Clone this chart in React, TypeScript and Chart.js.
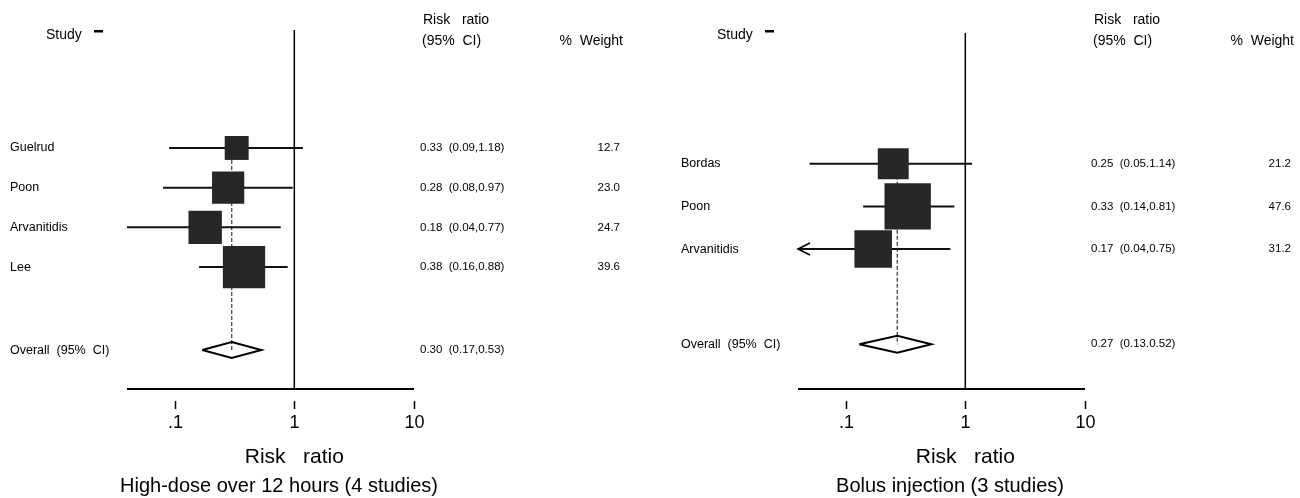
import React, { useEffect, useRef } from "react";
import { Chart, registerables } from "chart.js";

Chart.register(...registerables);

// ---------- data ----------
const leftStudies = ["Guelrud", "Poon", "Arvanitidis", "Lee"];
const leftRR = [0.33, 0.28, 0.18, 0.38];
const leftLow = [0.09, 0.08, 0.04, 0.16];
const leftHigh = [1.18, 0.97, 0.77, 0.88];
const leftWeight = [12.7, 23.0, 24.7, 39.6];
const leftTruncated = [false, false, false, false];
const leftCiText = ["0.33  (0.09,1.18)", "0.28  (0.08,0.97)", "0.18  (0.04,0.77)", "0.38  (0.16,0.88)"];
const leftOverall = [0.30, 0.17, 0.53];
const leftOverallText = "0.30  (0.17,0.53)";
const leftTitle = "High-dose over 12 hours (4 studies)";

const rightStudies = ["Bordas", "Poon", "Arvanitidis"];
const rightRR = [0.25, 0.33, 0.17];
const rightLow = [0.05, 0.14, 0.04];
const rightHigh = [1.14, 0.81, 0.75];
const rightWeight = [21.2, 47.6, 31.2];
const rightTruncated = [false, false, true];
const rightCiText = ["0.25  (0.05.1.14)", "0.33  (0.14,0.81)", "0.17  (0.04,0.75)"];
const rightOverall = [0.27, 0.13, 0.52];
const rightOverallText = "0.27  (0.13.0.52)";
const rightTitle = "Bolus injection (3 studies)";

const xTickValues = [0.1, 1, 10];
const xTickLabels = [".1", "1", "10"];
const axisMin = 0.04;
const axisMax = 10;
const overallLabel = "Overall  (95%  CI)";
const headerStudy = "Study";
const headerRR = ["Risk   ratio", "(95%  CI)"];
const headerWeight = "%  Weight";
const axisTitle = "Risk   ratio";

// ---------- helpers ----------
const FONT = '"Liberation Sans", Arial, Helvetica, sans-serif';
const f = (px: number) => `${px}px ${FONT}`;

type Panel = {
  studies: string[];
  rr: number[];
  low: number[];
  high: number[];
  weight: number[];
  truncated: boolean[];
  ciText: string[];
  overall: number[];
  overallText: string;
  title: string;
  yMin: number;
  yMaxOffset: number;
  overallOffset: number;
};

const forestPlugin = {
  id: "forest",
  afterDatasetsDraw(chart: any, _args: any, opts: any) {
    const p: Panel = opts.panel;
    const ctx = chart.ctx as CanvasRenderingContext2D;
    const xs = chart.scales.x;
    const ys = chart.scales.y;
    const area = chart.chartArea;
    const n = p.studies.length;
    const overallRow = n + p.overallOffset;
    ctx.save();
    ctx.fillStyle = "#000";
    ctx.strokeStyle = "#000";
    ctx.textBaseline = "middle";

    // headers
    ctx.font = f(14);
    ctx.textAlign = "left";
    ctx.fillText(headerStudy, 46, 35);
    ctx.fillRect(94, 30, 9, 2.5);
    ctx.fillText(headerRR[0], 423, 20);
    ctx.fillText(headerRR[1], 422, 41);
    ctx.textAlign = "right";
    ctx.fillText(headerWeight, 623, 41);

    // rows
    p.studies.forEach((s, i) => {
      const y = ys.getPixelForValue(i + 1);
      ctx.font = f(12.5);
      ctx.textAlign = "left";
      ctx.fillText(s, 10, y);
      ctx.font = f(11.5);
      ctx.fillText(p.ciText[i], 420, y);
      ctx.textAlign = "right";
      ctx.fillText(p.weight[i].toFixed(1), 620, y);
      if (p.truncated[i]) {
        const x0 = xs.getPixelForValue(axisMin);
        ctx.lineWidth = 1.6;
        ctx.beginPath();
        ctx.moveTo(x0 + 12, y - 6);
        ctx.lineTo(x0, y);
        ctx.lineTo(x0 + 12, y + 6);
        ctx.stroke();
      }
    });
    const yo = ys.getPixelForValue(overallRow);
    ctx.font = f(12.5);
    ctx.textAlign = "left";
    ctx.fillText(overallLabel, 10, yo);
    ctx.font = f(11.5);
    ctx.fillText(p.overallText, 420, yo);

    // x axis line
    ctx.lineWidth = 2;
    ctx.beginPath();
    ctx.moveTo(area.left, area.bottom);
    ctx.lineTo(area.right, area.bottom);
    ctx.stroke();

    // ticks + labels
    ctx.lineWidth = 1.5;
    ctx.font = f(18);
    ctx.textAlign = "center";
    xTickValues.forEach((v, i) => {
      const px = Math.round(xs.getPixelForValue(v)) + 0.5;
      ctx.beginPath();
      ctx.moveTo(px, area.bottom + 12);
      ctx.lineTo(px, area.bottom + 20);
      ctx.stroke();
      ctx.fillText(xTickLabels[i], px, area.bottom + 34);
    });

    // axis title
    ctx.font = f(21);
    ctx.fillText(axisTitle, xs.getPixelForValue(1), 457);
    // panel title
    ctx.font = f(20);
    ctx.fillText(p.title, 279, 486);
    ctx.restore();
  },
};

function ForestCanvas({ panel }: { panel: Panel }) {
  const ref = useRef<HTMLCanvasElement | null>(null);
  useEffect(() => {
    if (!ref.current) return;
    const n = panel.studies.length;
    const yMin = panel.yMin;
    const yMax = n + panel.yMaxOffset;
    const overallRow = n + panel.overallOffset;
    const [ov, ovLo, ovHi] = panel.overall;
    const datasets: any[] = [];
    datasets.push({
      data: panel.rr.map((v, i) => ({ x: v, y: i + 1 })),
      pointStyle: "rect",
      pointRadius: panel.weight.map((w) => Math.sqrt(w) * 4.75),
      backgroundColor: "#262626",
      borderWidth: 0,
      showLine: false,
      order: 0,
    });
    datasets.push({
      data: [
        { x: ovLo, y: overallRow },
        { x: ov, y: overallRow - 0.2 },
        { x: ovHi, y: overallRow },
        { x: ov, y: overallRow + 0.2 },
        { x: ovLo, y: overallRow },
      ],
      showLine: true,
      borderColor: "#000",
      borderWidth: 2,
      pointRadius: 0,
      fill: false,
      tension: 0,
      order: 0,
    });
    panel.rr.forEach((_, i) => {
      datasets.push({
        data: [
          { x: Math.max(panel.low[i], axisMin), y: i + 1 },
          { x: panel.high[i], y: i + 1 },
        ],
        showLine: true,
        borderColor: "#111",
        borderWidth: 2,
        pointRadius: 0,
        order: 1,
      });
    });
    datasets.push({
      data: [
        { x: ov, y: 1 },
        { x: ov, y: overallRow },
      ],
      showLine: true,
      borderColor: "#444",
      borderWidth: 1.3,
      borderDash: [4, 2],
      pointRadius: 0,
      order: 2,
    });
    datasets.push({
      data: [
        { x: 1, y: yMin },
        { x: 1, y: yMax },
      ],
      showLine: true,
      borderColor: "#000",
      borderWidth: 1.5,
      pointRadius: 0,
      order: 3,
    });

    const chart = new Chart(ref.current, {
      type: "scatter",
      data: { datasets },
      options: {
        responsive: false,
        animation: false,
        events: [],
        layout: { padding: { left: 127, right: 236, top: 30, bottom: 109 } },
        scales: {
          x: { type: "logarithmic", min: axisMin, max: axisMax, display: false },
          y: { type: "linear", min: yMin, max: yMax, reverse: true, display: false },
        },
        plugins: {
          legend: { display: false },
          tooltip: { enabled: false },
          forest: { panel },
        } as any,
      },
      plugins: [forestPlugin as any],
    });
    return () => chart.destroy();
  }, [panel]);
  return <canvas ref={ref} width={650} height={498} style={{ display: "block", width: 650, height: 498 }} />;
}

const leftPanel: Panel = {
  studies: leftStudies,
  rr: leftRR,
  low: leftLow,
  high: leftHigh,
  weight: leftWeight,
  truncated: leftTruncated,
  ciText: leftCiText,
  overall: leftOverall,
  overallText: leftOverallText,
  title: leftTitle,
  yMin: -1.97,
  yMaxOffset: 3.07,
  overallOffset: 2.09,
};
const rightPanel: Panel = {
  studies: rightStudies,
  rr: rightRR,
  low: rightLow,
  high: rightHigh,
  weight: rightWeight,
  truncated: rightTruncated,
  ciText: rightCiText,
  overall: rightOverall,
  overallText: rightOverallText,
  title: rightTitle,
  yMin: -2.07,
  yMaxOffset: 3.28,
  overallOffset: 2.23,
};

export default function App() {
  return (
    <div
      style={{
        position: "fixed",
        left: 0,
        top: 0,
        width: 1300,
        height: 498,
        overflow: "hidden",
        background: "#fff",
      }}
    >
      <div style={{ position: "absolute", left: 0, top: 0 }}>
        <ForestCanvas panel={leftPanel} />
      </div>
      <div style={{ position: "absolute", left: 671, top: 0 }}>
        <ForestCanvas panel={rightPanel} />
      </div>
    </div>
  );
}
